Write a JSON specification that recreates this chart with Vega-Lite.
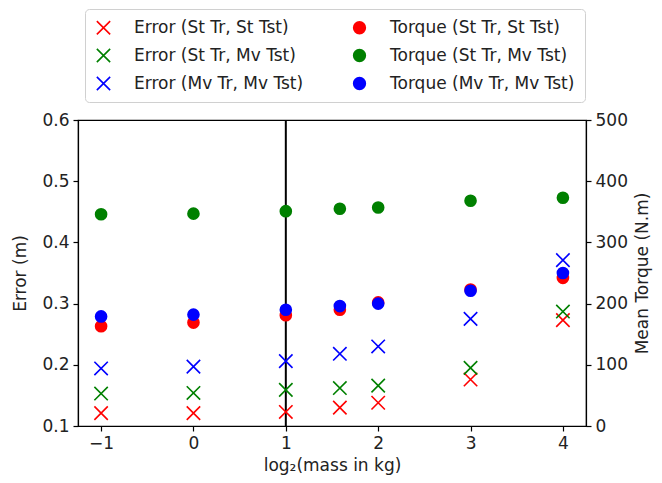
{
  "$schema": "https://vega.github.io/schema/vega-lite/v6.json",
  "width": 508,
  "height": 306,
  "autosize": {"type": "none"},
  "padding": {"left": 78, "top": 120, "right": 76, "bottom": 57},
  "background": "white",
  "config": {
    "view": {"stroke": "black", "strokeWidth": 1.2},
    "font": "DejaVu Sans",
    "axis": {
      "grid": false,
      "domainColor": "black",
      "domainWidth": 1.2,
      "tickColor": "black",
      "tickWidth": 1.2,
      "labelColor": "#222222",
      "labelFontSize": 17,
      "labelFont": "DejaVu Sans",
      "titleFont": "DejaVu Sans",
      "titleFontSize": 17,
      "titleFontWeight": "normal",
      "titleColor": "#222222",
      "tickSize": 5,
      "labelPadding": 4
    },
    "legend": {
      "labelFont": "DejaVu Sans",
      "labelFontSize": 17,
      "labelColor": "#222222"
    }
  },
  "datasets": {
    "errors": [
      {"x": -1, "series": "Error (St Tr, St Tst)", "value": 0.121},
      {"x": 0, "series": "Error (St Tr, St Tst)", "value": 0.121},
      {"x": 1, "series": "Error (St Tr, St Tst)", "value": 0.123},
      {"x": 1.585, "series": "Error (St Tr, St Tst)", "value": 0.130},
      {"x": 2, "series": "Error (St Tr, St Tst)", "value": 0.138},
      {"x": 3, "series": "Error (St Tr, St Tst)", "value": 0.176},
      {"x": 4, "series": "Error (St Tr, St Tst)", "value": 0.273},
      {"x": -1, "series": "Error (St Tr, Mv Tst)", "value": 0.153},
      {"x": 0, "series": "Error (St Tr, Mv Tst)", "value": 0.154},
      {"x": 1, "series": "Error (St Tr, Mv Tst)", "value": 0.159},
      {"x": 1.585, "series": "Error (St Tr, Mv Tst)", "value": 0.162},
      {"x": 2, "series": "Error (St Tr, Mv Tst)", "value": 0.166},
      {"x": 3, "series": "Error (St Tr, Mv Tst)", "value": 0.195},
      {"x": 4, "series": "Error (St Tr, Mv Tst)", "value": 0.287},
      {"x": -1, "series": "Error (Mv Tr, Mv Tst)", "value": 0.194},
      {"x": 0, "series": "Error (Mv Tr, Mv Tst)", "value": 0.197},
      {"x": 1, "series": "Error (Mv Tr, Mv Tst)", "value": 0.206},
      {"x": 1.585, "series": "Error (Mv Tr, Mv Tst)", "value": 0.218},
      {"x": 2, "series": "Error (Mv Tr, Mv Tst)", "value": 0.230},
      {"x": 3, "series": "Error (Mv Tr, Mv Tst)", "value": 0.275},
      {"x": 4, "series": "Error (Mv Tr, Mv Tst)", "value": 0.371}
    ],
    "torques": [
      {"x": -1, "series": "Torque (St Tr, St Tst)", "value": 163},
      {"x": 0, "series": "Torque (St Tr, St Tst)", "value": 169},
      {"x": 1, "series": "Torque (St Tr, St Tst)", "value": 181},
      {"x": 1.585, "series": "Torque (St Tr, St Tst)", "value": 190},
      {"x": 2, "series": "Torque (St Tr, St Tst)", "value": 202},
      {"x": 3, "series": "Torque (St Tr, St Tst)", "value": 223},
      {"x": 4, "series": "Torque (St Tr, St Tst)", "value": 242},
      {"x": -1, "series": "Torque (St Tr, Mv Tst)", "value": 346},
      {"x": 0, "series": "Torque (St Tr, Mv Tst)", "value": 347},
      {"x": 1, "series": "Torque (St Tr, Mv Tst)", "value": 351},
      {"x": 1.585, "series": "Torque (St Tr, Mv Tst)", "value": 355},
      {"x": 2, "series": "Torque (St Tr, Mv Tst)", "value": 357},
      {"x": 3, "series": "Torque (St Tr, Mv Tst)", "value": 368},
      {"x": 4, "series": "Torque (St Tr, Mv Tst)", "value": 373},
      {"x": -1, "series": "Torque (Mv Tr, Mv Tst)", "value": 179},
      {"x": 0, "series": "Torque (Mv Tr, Mv Tst)", "value": 182},
      {"x": 1, "series": "Torque (Mv Tr, Mv Tst)", "value": 190},
      {"x": 1.585, "series": "Torque (Mv Tr, Mv Tst)", "value": 196},
      {"x": 2, "series": "Torque (Mv Tr, Mv Tst)", "value": 200},
      {"x": 3, "series": "Torque (Mv Tr, Mv Tst)", "value": 221},
      {"x": 4, "series": "Torque (Mv Tr, Mv Tst)", "value": 250}
    ],
    "vline": [{"x": 1}]
  },
  "layer": [
    {
      "data": {"name": "vline"},
      "mark": {"type": "rule", "color": "black", "strokeWidth": 2},
      "encoding": {
        "x": {"field": "x", "type": "quantitative", "scale": {"domain": [-1.25, 4.25], "nice": false}}
      }
    },
    {
      "data": {"name": "errors"},
      "mark": {"type": "point", "opacity": 1, "filled": true, "strokeWidth": 0, "size": 180},
      "encoding": {
        "x": {
          "field": "x", "type": "quantitative",
          "scale": {"domain": [-1.25, 4.25], "nice": false, "zero": false},
          "axis": {"values": [-1, 0, 1, 2, 3, 4], "format": "d", "title": "log₂(mass in kg)", "titlePadding": 6}
        },
        "y": {
          "field": "value", "type": "quantitative",
          "scale": {"domain": [0.1, 0.6], "nice": false, "zero": false},
          "axis": {"orient": "left", "values": [0.1, 0.2, 0.3, 0.4, 0.5, 0.6], "format": ".1f", "title": "Error (m)", "titlePadding": 12}
        },
        "fill": {"field": "series", "type": "nominal", "scale": {"domain": ["Error (St Tr, St Tst)", "Torque (St Tr, St Tst)", "Error (St Tr, Mv Tst)", "Torque (St Tr, Mv Tst)", "Error (Mv Tr, Mv Tst)", "Torque (Mv Tr, Mv Tst)"], "range": ["red", "red", "green", "green", "blue", "blue"]},
          "legend": {"title": null, "orient": "none", "legendX": 7, "legendY": -111, "direction": "horizontal", "columns": 2, "columnPadding": 47, "rowPadding": 10, "padding": 10, "symbolSize": 177, "symbolStrokeWidth": 0, "labelOffset": 22, "strokeColor": "#d0d0d0", "fillColor": "white", "cornerRadius": 4, "labelLimit": 300}},
        "shape": {"field": "series", "type": "nominal", "scale": {"domain": ["Error (St Tr, St Tst)", "Torque (St Tr, St Tst)", "Error (St Tr, Mv Tst)", "Torque (St Tr, Mv Tst)", "Error (Mv Tr, Mv Tst)", "Torque (Mv Tr, Mv Tst)"], "range": ["M-0.915,-1.085L1.085,0.915L0.915,1.085L-1.085,-0.915ZM0.915,-1.085L1.085,-0.915L-0.915,1.085L-1.085,0.915Z", "circle", "M-0.915,-1.085L1.085,0.915L0.915,1.085L-1.085,-0.915ZM0.915,-1.085L1.085,-0.915L-0.915,1.085L-1.085,0.915Z", "circle", "M-0.915,-1.085L1.085,0.915L0.915,1.085L-1.085,-0.915ZM0.915,-1.085L1.085,-0.915L-0.915,1.085L-1.085,0.915Z", "circle"]},
          "legend": {"title": null, "orient": "none", "legendX": 7, "legendY": -111, "direction": "horizontal", "columns": 2, "columnPadding": 47, "rowPadding": 10, "padding": 10, "symbolSize": 177, "symbolStrokeWidth": 0, "labelOffset": 22, "strokeColor": "#d0d0d0", "fillColor": "white", "cornerRadius": 4, "labelLimit": 300}}
      }
    },
    {
      "data": {"name": "torques"},
      "mark": {"type": "point", "opacity": 1, "filled": true, "strokeWidth": 0, "size": 160},
      "encoding": {
        "x": {"field": "x", "type": "quantitative", "scale": {"domain": [-1.25, 4.25], "nice": false, "zero": false}},
        "y": {
          "field": "value", "type": "quantitative",
          "scale": {"domain": [0, 500], "nice": false},
          "axis": {"orient": "right", "values": [0, 100, 200, 300, 400, 500], "title": "Mean Torque (N.m)", "titlePadding": 24, "titleAngle": 270}
        },
        "fill": {"field": "series", "type": "nominal"},
        "shape": {"field": "series", "type": "nominal"}
      }
    }
  ],
  "resolve": {"scale": {"y": "independent"}}
}
